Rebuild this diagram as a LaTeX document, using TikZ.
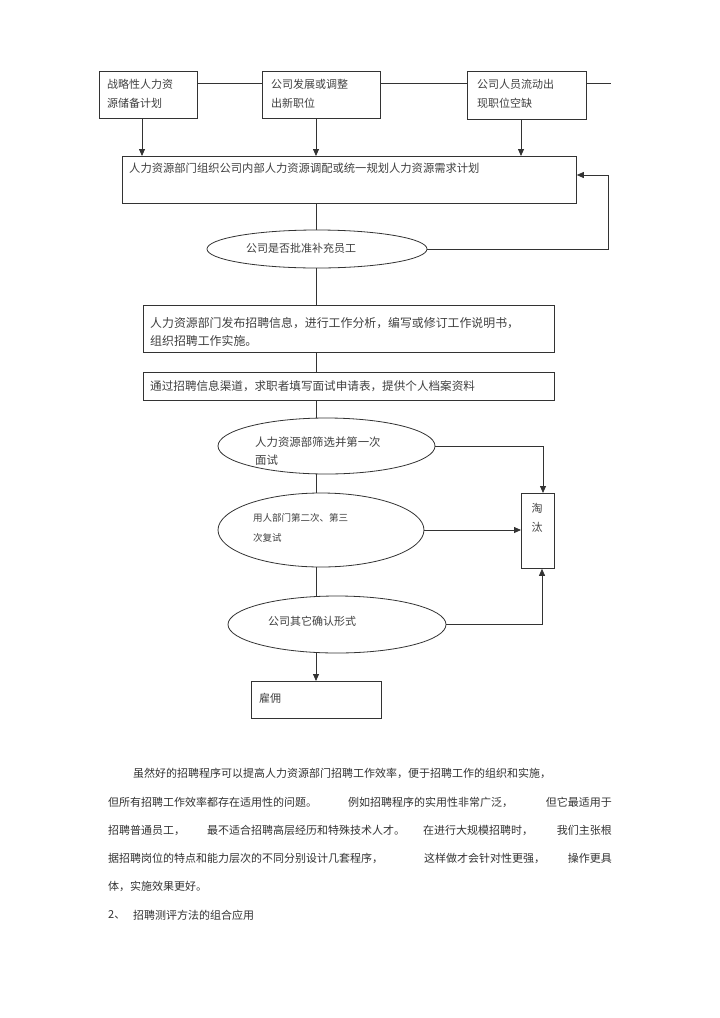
\documentclass[tikz,border=0pt]{standalone}
\usepackage{fontspec}
\setmainfont{Noto Sans CJK SC}
\usetikzlibrary{shapes.geometric,arrows.meta,calc}
\begin{document}
\begin{tikzpicture}[x=1pt,y=-1pt,
 line/.style={draw=black!80, line width=0.8pt},
 arr/.style={line, -{Triangle[length=7pt,width=6pt]}},
 box/.style={draw=black!80, line width=0.8pt, anchor=north west, inner sep=0pt},
 txt/.style={text=black!75, font=\fontsize{11}{19}\selectfont, inner sep=0pt, anchor=west, align=left},
 ptxt/.style={text=black!80, font=\fontsize{11}{12}\selectfont, inner sep=0pt, anchor=west},
 ell/.style={draw=black!80, line width=0.8pt, ellipse, inner sep=0pt}]
\useasboundingbox[fill=white] (0,0) rectangle (720,1018);
\coordinate (lx) at (316,0);
% top boxes
\node[box, minimum width=98pt, minimum height=47pt] (b1) at (99,71) {};
\node[box, minimum width=118pt, minimum height=47pt] (b2) at (262,71) {};
\node[box, minimum width=119pt, minimum height=48pt] (b3) at (467,71) {};
\node[txt] (t1) at (107,93.5) {战略性人力资\\源储备计划};
\node[txt] (t2) at (271,93.5) {公司发展或调整\\出新职位};
\node[txt] (t3) at (477,93.5) {公司人员流动出\\现职位空缺};
\coordinate (c3) at (611,83);
\draw[line] (b1.east |- c3) -- (b2.west |- c3);
\draw[line] (b2.east |- c3) -- (b3.west |- c3);
\draw[line] (b3.east |- c3) -- (c3);
% big box
\node[box, minimum width=454pt, minimum height=47pt] (big) at (122,156) {};
\node[txt, font=\fontsize{11.3}{19}\selectfont] (tbig) at (129,168) {人力资源部门组织公司内部人力资源调配或统一规划人力资源需求计划};
\coordinate (a1) at (142,0);
\coordinate (a3) at (521,0);
\draw[arr] (b1.south -| a1) -- (big.north -| a1);
\draw[arr] (b2.south -| lx) -- (big.north -| lx);
\draw[arr] (b3.south -| a3) -- (big.north -| a3);
% ellipse 1
\node[ell, minimum width=220pt, minimum height=38pt] (e1) at (317,249) {};
\node[txt] (te1) at (246,248) {公司是否批准补充员工};
\draw[line] (big.south -| lx) -- (e1.north -| lx);
\coordinate (fb) at (608,175);
\draw[arr] (e1.east) -- (e1.east -| fb) -- (fb) -- (big.east |- fb);
% box 4 and 5
\node[box, minimum width=411pt, minimum height=47pt] (b4) at (143,305) {};
\node[txt, font=\fontsize{11.9}{18}\selectfont] (t4) at (150,332) {人力资源部门发布招聘信息，进行工作分析，编写或修订工作说明书，\\组织招聘工作实施。};
\node[box, minimum width=411pt, minimum height=28pt] (b5) at (143,372) {};
\node[txt, font=\fontsize{11.6}{18}\selectfont] (t5) at (150,386) {通过招聘信息渠道，求职者填写面试申请表，提供个人档案资料};
\draw[line] (e1.south -| lx) -- (b4.north -| lx);
\draw[line] (b4.south -| lx) -- (b5.north -| lx);
% ellipses 2-4
\node[ell, minimum width=217pt, minimum height=56pt] (e2) at (326.5,446) {};
\node[txt, font=\fontsize{11.4}{18}\selectfont] (te2) at (255,451) {人力资源部筛选并第一次\\面试};
\node[ell, minimum width=206pt, minimum height=74pt] (e3) at (321,530) {};
\node[txt, font=\fontsize{9.5}{20}\selectfont] (te3) at (253,528) {用人部门第二次、第三\\次复试};
\node[ell, minimum width=218pt, minimum height=57pt] (e4) at (337,624.5) {};
\node[txt] (te4) at (268,621) {公司其它确认形式};
\draw[line] (b5.south -| lx) -- (e2.north -| lx);
\draw[line] (e2.south -| lx) -- (e3.north -| lx);
\draw[line] (e3.south -| lx) -- (e4.north -| lx);
% tao box
\node[box, minimum width=33pt, minimum height=75pt] (tao) at (521,493) {};
\node[txt, anchor=center] (ttao) at (537,517.5) {淘\\汰};
\coordinate (tx) at (543,0);
\coordinate (tx2) at (542,0);
\draw[arr] (e2.east) -- (e2.east -| tx) -- (tao.north -| tx);
\draw[arr] (e3.east) -- (tao.west |- e3.east);
\draw[arr] (e4.east) -- (e4.east -| tx2) -- (tao.south -| tx2);
% hire box
\node[box, minimum width=130pt, minimum height=37pt] (hire) at (251,681) {};
\node[txt] (thire) at (259,698) {雇佣};
\draw[arr] (e4.south -| lx) -- (hire.north -| lx);
% paragraph
\node[ptxt] (p1) at (133,773) {虽然好的招聘程序可以提高人力资源部门招聘工作效率，便于招聘工作的组织和实施，};
\node[ptxt] (p2a) at (108,802) {但所有招聘工作效率都存在适用性的问题。};
\node[ptxt] (p2b) at (348,802) {例如招聘程序的实用性非常广泛，};
\node[ptxt, anchor=east] (p2c) at (612,802) {但它最适用于};
\node[ptxt] (p3a) at (108,830) {招聘普通员工，};
\node[ptxt] (p3b) at (207,830) {最不适合招聘高层经历和特殊技术人才。};
\node[ptxt] (p3c) at (423,830) {在进行大规模招聘时，};
\node[ptxt, anchor=east] (p3d) at (612,830) {我们主张根};
\node[ptxt] (p4a) at (108,858) {据招聘岗位的特点和能力层次的不同分别设计几套程序，};
\node[ptxt] (p4b) at (424,858) {这样做才会针对性更强，};
\node[ptxt, anchor=east] (p4c) at (612,858) {操作更具};
\node[ptxt] (p5) at (108,886) {体，实施效果更好。};
\node[ptxt] (p6a) at (108,915) {2、};
\node[ptxt] (p6b) at (133,915) {招聘测评方法的组合应用};
\end{tikzpicture}
\end{document}
